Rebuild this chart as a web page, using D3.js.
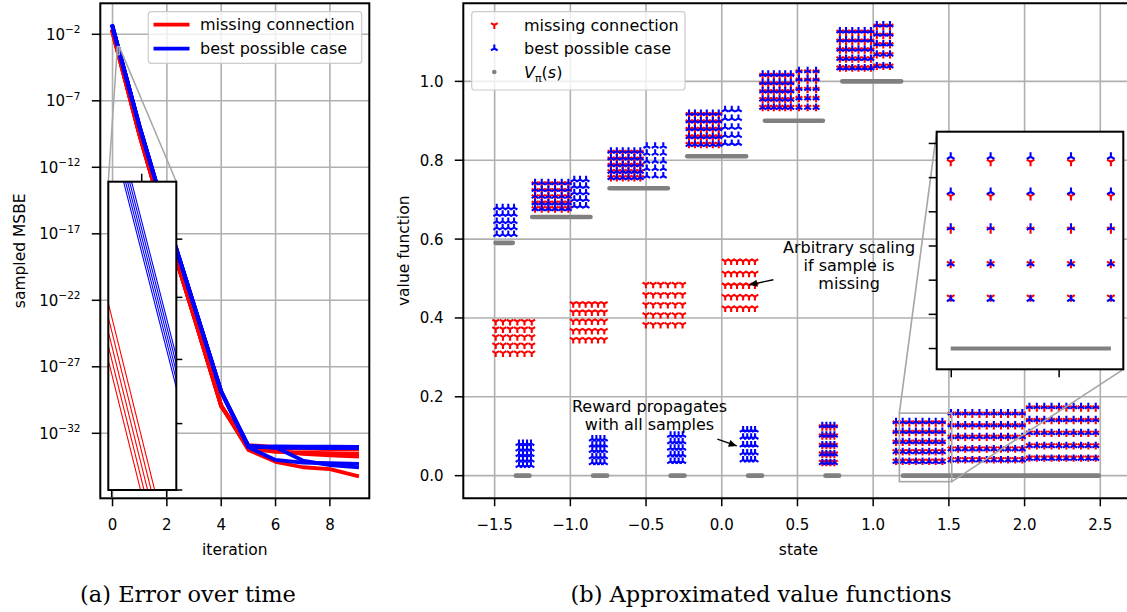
<!DOCTYPE html>
<html><head><meta charset="utf-8">
<script src="https://cdn.jsdelivr.net/npm/d3@7/dist/d3.min.js"></script>
<style>
html,body{margin:0;padding:0;background:#fff;}
svg{display:block;}
text{font-family:"DejaVu Sans",sans-serif;fill:#000;}
text.caption{font-family:"DejaVu Serif",serif;}
</style></head><body>
<svg id="chart" width="1127" height="612" xmlns="http://www.w3.org/2000/svg"></svg>
<script>
// ================= DATA: panel (a) Error over time =================
const iterations = [0,1,2,3,4,5,6,7,8,9];
// sampled MSBE, five runs per setting
const missingRun1 = [1.7488e-2, 2.773e-10, 2.51e-17, 6.31e-24, 1.26e-30, 5.6e-34, 7.1e-35, 2.8e-35, 2.0e-35, 6.3e-36];
const missingRun2 = [1.6400e-2, 2.601e-10, 2.40e-17, 6.00e-24, 1.20e-30, 7.9e-34, 5.0e-34, 2.8e-34, 2.2e-34, 1.8e-34];
const missingRun3 = [1.5390e-2, 2.441e-10, 2.30e-17, 5.80e-24, 1.15e-30, 7.0e-34, 4.0e-34, 3.5e-34, 3.2e-34, 3.0e-34];
const missingRun4 = [1.4433e-2, 2.289e-10, 2.20e-17, 5.60e-24, 1.10e-30, 1.1e-33, 8.0e-34, 7.0e-34, 6.5e-34, 6.3e-34];
const missingRun5 = [1.3543e-2, 2.148e-10, 2.10e-17, 5.40e-24, 1.05e-30, 1.3e-33, 9.0e-34, 8.5e-34, 8.0e-34, 8.0e-34];
const bestRun1 = [3.5480e-2, 1.0000e-9, 1.26e-16, 3.98e-23, 1.26e-29, 1.00e-33, 8.9e-34, 8.9e-34, 8.9e-34, 8.9e-34];
const bestRun2 = [3.6741e-2, 1.0356e-9, 1.30e-16, 4.10e-23, 1.30e-29, 1.12e-33, 7.9e-34, 7.9e-34, 7.6e-34, 7.6e-34];
const bestRun3 = [3.8048e-2, 1.0725e-9, 1.35e-16, 4.20e-23, 1.35e-29, 9.3e-34, 1.05e-33, 1.0e-33, 1.0e-33, 9.5e-34];
const bestRun4 = [3.9405e-2, 1.1107e-9, 1.40e-16, 4.40e-23, 1.40e-29, 8.9e-34, 1.0e-34, 6.3e-35, 5.6e-35, 5.0e-35];
const bestRun5 = [4.0806e-2, 1.1503e-9, 1.45e-16, 4.50e-23, 1.45e-29, 1.12e-33, 8.9e-34, 8.9e-35, 4.0e-35, 2.8e-35];
const missingRuns = [missingRun1, missingRun2, missingRun3, missingRun4, missingRun5];
const bestRuns = [bestRun1, bestRun2, bestRun3, bestRun4, bestRun5];
const iterationTicks = [0,2,4,6,8];
const msbeTicks = [1e-2, 1e-7, 1e-12, 1e-17, 1e-22, 1e-27, 1e-32];
const msbeTickExp = ["\u22122","\u22127","\u221212","\u221217","\u221222","\u221227","\u221232"];
// zoomed inset of panel (a)
const zoomIterRange = [0.18, 0.2484];
const zoomMsbeRange = [1.189e-3, 2.985e-4];
const zoomIterTicksBottom = [0.1834, 0.2387];
const zoomIterTicksTop = [0.2136];
const zoomMsbeTicks = [9.19e-4, 7.08e-4, 5.36e-4, 4.02e-4, 2.985e-4];

// ================= DATA: panel (b) Approximated value functions =================
const stateTicks = [-1.5,-1.0,-0.5,0.0,0.5,1.0,1.5,2.0,2.5];
const stateTickLabels = ["\u22121.5","\u22121.0","\u22120.5","0.0","0.5","1.0","1.5","2.0","2.5"];
const valueTicks = [0.0,0.2,0.4,0.6,0.8,1.0];
const valueTickLabels = ["0.0","0.2","0.4","0.6","0.8","1.0"];
// V_pi(s): constant pieces (state from, state to, value)
const vpiFrom  = [-1.494, -1.252, -0.741, -0.228, 0.285, 0.796, -1.360, -0.850, -0.338, 0.174, 0.685, 1.197];
const vpiTo    = [-1.380, -0.867, -0.356,  0.161, 0.668, 1.185, -1.270, -0.757, -0.246, 0.266, 0.775, 2.490];
const vpiValue = [0.59049, 0.6561, 0.729, 0.81, 0.9, 1.0, 0, 0, 0, 0, 0, 0];
// sample grids: states (columns) x values (rows)
const bestGroups = [
  {states:[-1.486,-1.447,-1.410,-1.372], values:[0.680,0.663,0.645,0.629,0.612]},
  {states:[-1.233,-1.189,-1.145,-1.101,-1.057,-1.013], values:[0.743,0.726,0.709,0.692,0.677]},
  {states:[-0.974,-0.936,-0.896], values:[0.751,0.734,0.718,0.701,0.684]},
  {states:[-0.732,-0.693,-0.654,-0.616,-0.577,-0.538], values:[0.823,0.806,0.789,0.772,0.756]},
  {states:[-0.495,-0.440,-0.386], values:[0.836,0.818,0.798,0.779,0.760]},
  {states:[-0.216,-0.177,-0.138,-0.099,-0.059,-0.020], values:[0.919,0.900,0.880,0.860,0.840]},
  {states:[0.022,0.066,0.110], values:[0.928,0.906,0.884,0.863,0.843]},
  {states:[0.270,0.307,0.344,0.382,0.419,0.456], values:[1.018,0.997,0.976,0.955,0.934]},
  {states:[0.510,0.567,0.623], values:[1.027,1.006,0.982,0.958,0.934]},
  {states:[0.780,0.821,0.862,0.903,0.944,0.985], values:[1.128,1.105,1.082,1.058,1.034]},
  {states:[1.024,1.067,1.111], values:[1.143,1.120,1.095,1.069,1.039]},
  {states:[-1.339,-1.313,-1.286,-1.260], values:[0.082,0.068,0.054,0.040,0.026]},
  {states:[-0.855,-0.828,-0.802,-0.775], values:[0.093,0.078,0.064,0.048,0.033]},
  {states:[-0.338,-0.311,-0.285,-0.258], values:[0.103,0.086,0.070,0.053,0.036]},
  {states:[0.141,0.168,0.194,0.220], values:[0.116,0.098,0.078,0.058,0.040]},
  {states:[0.664,0.691,0.717,0.744], values:[0.127,0.103,0.078,0.055,0.033]},
  {states:[1.151,1.195,1.239,1.282,1.326,1.370,1.413,1.457], values:[0.137,0.112,0.086,0.061,0.036]},
  {states:[1.514,1.561,1.608,1.655,1.702,1.750,1.797,1.844,1.891,1.938,1.985], values:[0.159,0.129,0.099,0.068,0.040]},
  {states:[2.032,2.081,2.130,2.178,2.227,2.276,2.324,2.373,2.421,2.470], values:[0.175,0.142,0.109,0.076,0.044]}
];
const missingGroups = [
  {states:[-1.493,-1.445,-1.398,-1.350,-1.303,-1.255], values:[0.391,0.372,0.352,0.331,0.311]},
  {states:[-0.981,-0.940,-0.899,-0.858,-0.817,-0.776], values:[0.436,0.415,0.392,0.368,0.345]},
  {states:[-0.501,-0.453,-0.404,-0.356,-0.307,-0.259], values:[0.485,0.459,0.434,0.408,0.383]},
  {states:[0.023,0.062,0.101,0.141,0.180,0.219], values:[0.544,0.513,0.483,0.454,0.425]},
  {states:[-1.233,-1.189,-1.145,-1.101,-1.057,-1.013], values:[0.740,0.723,0.707,0.691,0.677]},
  {states:[-0.732,-0.693,-0.654,-0.616,-0.577,-0.538], values:[0.820,0.803,0.787,0.771,0.756]},
  {states:[-0.216,-0.177,-0.138,-0.099,-0.059,-0.020], values:[0.916,0.897,0.878,0.859,0.840]},
  {states:[0.270,0.307,0.344,0.382,0.419,0.456], values:[1.015,0.994,0.974,0.954,0.934]},
  {states:[0.510,0.567,0.623], values:[1.024,1.003,0.980,0.957,0.934]},
  {states:[0.780,0.821,0.862,0.903,0.944,0.985], values:[1.125,1.102,1.080,1.057,1.034]},
  {states:[1.024,1.067,1.111], values:[1.140,1.117,1.093,1.068,1.039]},
  {states:[0.664,0.691,0.717,0.744], values:[0.124,0.101,0.077,0.055,0.034]},
  {states:[1.151,1.195,1.239,1.282,1.326,1.370,1.413,1.457], values:[0.134,0.110,0.085,0.061,0.037]},
  {states:[1.514,1.561,1.608,1.655,1.702,1.750,1.797,1.844,1.891,1.938,1.985], values:[0.156,0.127,0.098,0.068,0.041]},
  {states:[2.032,2.081,2.130,2.178,2.227,2.276,2.324,2.373,2.421,2.470], values:[0.172,0.140,0.108,0.076,0.045]}
];
// zoomed inset of panel (b)
const zoomStateRange = [1.173, 1.519];
const zoomValueRange = [-0.0152, 0.1586];
const zoomStates = [1.199, 1.273, 1.347, 1.422, 1.496];
const zoomBestValues = [0.1403, 0.1145, 0.0884, 0.0620, 0.0362];
const zoomMissingValues = [0.1366, 0.1115, 0.0872, 0.0620, 0.0374];
const zoomVpiFrom = [1.199], zoomVpiTo = [1.496], zoomVpiValue = [0];
const zoomStateTicks = [1.2, 1.4];
const zoomValueTicks = [0, 0.025, 0.05, 0.075, 0.1, 0.125, 0.15];

// ================= DRAWING =================
const RED = "#ff0000", BLUE = "#0000ff", GRAY = "#808080", GRID = "#b0b0b0";
const svg = d3.select("#chart");
const defs = svg.append("defs");
function clip(id, x, y, w, h){ defs.append("clipPath").attr("id", id).append("rect").attr("x",x).attr("y",y).attr("width",w).attr("height",h); return `url(#${id})`; }
function tri(x, y, r, up){
  const s = up ? -1 : 1;
  return `M${x},${y}L${x},${y+s*r}M${x},${y}L${x-0.866*r},${y-s*0.5*r}M${x},${y}L${x+0.866*r},${y-s*0.5*r}`;
}
function grid(points){ return points.flatMap(g => g.values.flatMap(v => g.states.map(s => ({s, v})))); }

// ---------- Panel (a) ----------
const A = {l:100.3, r:369.3, t:3.3, b:498.3};
const xA = d3.scaleLinear().domain([-0.45, 9.45]).range([A.l, A.r]);
const yA = d3.scaleLog().domain([2.143, 1.297e-37]).range([A.t, A.b]);
const gA = svg.append("g");
gA.append("g").selectAll("line").data(iterationTicks).join("line")
  .attr("x1", d=>xA(d)).attr("x2", d=>xA(d)).attr("y1", A.t).attr("y2", A.b)
  .attr("stroke", GRID).attr("stroke-width", 1.6);
gA.append("g").selectAll("line").data(msbeTicks).join("line")
  .attr("x1", A.l).attr("x2", A.r).attr("y1", d=>yA(d)).attr("y2", d=>yA(d))
  .attr("stroke", GRID).attr("stroke-width", 1.6);
const clipA = clip("clipA", A.l, A.t, A.r-A.l, A.b-A.t);
const lineA = d3.line().x((d,i)=>xA(iterations[i])).y(d=>yA(d));
const linesA = gA.append("g").attr("clip-path", clipA);
linesA.selectAll("path.m").data(missingRuns).join("path").attr("class","m")
  .attr("d", lineA).attr("fill","none").attr("stroke", RED).attr("stroke-width", 3.8)
  .attr("stroke-linejoin","round").attr("stroke-linecap","square");
linesA.selectAll("path.b").data(bestRuns).join("path").attr("class","b")
  .attr("d", lineA).attr("fill","none").attr("stroke", BLUE).attr("stroke-width", 3.8)
  .attr("stroke-linejoin","round").attr("stroke-linecap","square");

// zoom indicator in (a)
const IA = {l:108.3, r:176.3, t:181.7, b:490};
const zx0 = xA(zoomIterRange[0]), zx1 = xA(zoomIterRange[1]);
const zy0 = yA(zoomMsbeRange[0]), zy1 = yA(zoomMsbeRange[1]);
gA.append("rect").attr("x", zx0).attr("y", zy0).attr("width", zx1-zx0).attr("height", zy1-zy0)
  .attr("fill","none").attr("stroke","#a6a6a6").attr("stroke-width",1.5);
gA.append("line").attr("x1", zx0).attr("y1", zy0).attr("x2", IA.l).attr("y2", IA.t).attr("stroke","#a6a6a6").attr("stroke-width",1.5);
gA.append("line").attr("x1", zx1).attr("y1", zy0).attr("x2", IA.r).attr("y2", IA.t).attr("stroke","#a6a6a6").attr("stroke-width",1.5);

// axes (a)
gA.append("rect").attr("x",A.l).attr("y",A.t).attr("width",A.r-A.l).attr("height",A.b-A.t)
  .attr("fill","none").attr("stroke","#000").attr("stroke-width",2);
gA.append("g").selectAll("line").data(iterationTicks).join("line")
  .attr("x1", d=>xA(d)).attr("x2", d=>xA(d)).attr("y1", A.b).attr("y2", A.b+8)
  .attr("stroke","#000").attr("stroke-width",1.5);
gA.append("g").selectAll("text").data(iterationTicks).join("text")
  .attr("x", d=>xA(d)).attr("y", 529.5).attr("text-anchor","middle").attr("font-size",15).text(d=>d);
gA.append("g").selectAll("line").data(msbeTicks).join("line")
  .attr("x1", A.l-8.5).attr("x2", A.l).attr("y1", d=>yA(d)).attr("y2", d=>yA(d))
  .attr("stroke","#000").attr("stroke-width",1.5);
const ylab = gA.append("g").selectAll("text").data(msbeTicks).join("text")
  .attr("x", 80.5).attr("y", d=>yA(d)+5.5).attr("text-anchor","end").attr("font-size",15);
ylab.append("tspan").text("10");
ylab.append("tspan").attr("font-size",10.5).attr("dy",-6.5).text((d,i)=>msbeTickExp[i]);
gA.append("text").attr("x", (A.l+A.r)/2).attr("y", 555).attr("text-anchor","middle").attr("font-size",15.5).text("iteration");
gA.append("text").attr("transform", `translate(24.5,${(A.t+A.b)/2}) rotate(-90)`).attr("text-anchor","middle").attr("font-size",15.5).text("sampled MSBE");

// legend (a)
const legA = gA.append("g");
legA.append("rect").attr("x",148.3).attr("y",11.7).attr("width",213.4).attr("height",51.6).attr("rx",3)
  .attr("fill","#fff").attr("fill-opacity",0.8).attr("stroke","#cccccc").attr("stroke-width",1.2);
[["missing connection", RED],["best possible case", BLUE]].forEach(([t,c],i)=>{
  const y = 24.7 + i*24;
  legA.append("line").attr("x1",153.5).attr("x2",189.5).attr("y1",y).attr("y2",y).attr("stroke",c).attr("stroke-width",3.8);
  legA.append("text").attr("x",200).attr("y",y+5.6).attr("font-size",16).text(t);
});

// inset (a)
const xIA = d3.scaleLinear().domain(zoomIterRange).range([IA.l, IA.r]);
const yIA = d3.scaleLog().domain(zoomMsbeRange).range([IA.t, IA.b]);
const gIA = svg.append("g");
gIA.append("rect").attr("x",IA.l).attr("y",IA.t).attr("width",IA.r-IA.l).attr("height",IA.b-IA.t).attr("fill","#fff");
const clipIA = clip("clipIA", IA.l, IA.t, IA.r-IA.l, IA.b-IA.t);
const lineIA = d3.line().x((d,i)=>xIA(iterations[i])).y(d=>yIA(d));
const inA = gIA.append("g").attr("clip-path", clipIA);
inA.selectAll("path.m").data(missingRuns).join("path").attr("class","m").attr("d", lineIA)
  .attr("fill","none").attr("stroke",RED).attr("stroke-width",1.1);
inA.selectAll("path.b").data(bestRuns).join("path").attr("class","b").attr("d", lineIA)
  .attr("fill","none").attr("stroke",BLUE).attr("stroke-width",1.1);
gIA.append("rect").attr("x",IA.l).attr("y",IA.t).attr("width",IA.r-IA.l).attr("height",IA.b-IA.t)
  .attr("fill","none").attr("stroke","#000").attr("stroke-width",2);
gIA.append("g").selectAll("line").data(zoomIterTicksBottom).join("line")
  .attr("x1",d=>xIA(d)).attr("x2",d=>xIA(d)).attr("y1",IA.b).attr("y2",IA.b+7).attr("stroke","#000").attr("stroke-width",1.5);
gIA.append("g").selectAll("line").data(zoomIterTicksTop).join("line")
  .attr("x1",d=>xIA(d)).attr("x2",d=>xIA(d)).attr("y1",IA.t).attr("y2",IA.t-8).attr("stroke","#000").attr("stroke-width",1.5);
gIA.append("g").selectAll("line").data(zoomMsbeTicks).join("line")
  .attr("x1",IA.r).attr("x2",IA.r+6).attr("y1",d=>yIA(d)).attr("y2",d=>yIA(d)).attr("stroke","#000").attr("stroke-width",1.5);

// ---------- Panel (b) ----------
const B = {l:463.3, r:1133.6, t:3.3, b:498.3};
const xB = d3.scaleLinear().domain([-1.707, 2.72]).range([B.l, B.r]);
const yB = d3.scaleLinear().domain([-0.0574, 1.198]).range([B.b, B.t]);
const gB = svg.append("g");
gB.append("g").selectAll("line").data(stateTicks).join("line")
  .attr("x1", d=>xB(d)).attr("x2", d=>xB(d)).attr("y1", B.t).attr("y2", B.b)
  .attr("stroke", GRID).attr("stroke-width", 1.6);
gB.append("g").selectAll("line").data(valueTicks).join("line")
  .attr("x1", B.l).attr("x2", B.r).attr("y1", d=>yB(d)).attr("y2", d=>yB(d))
  .attr("stroke", GRID).attr("stroke-width", 1.6);
const clipB = clip("clipB", B.l, B.t, B.r-B.l, B.b-B.t);
const plotB = gB.append("g").attr("clip-path", clipB);
const MR = 3.9, MW = 2.1;
plotB.append("g").selectAll("path").data(grid(missingGroups)).join("path")
  .attr("d", d=>tri(xB(d.s), yB(d.v), MR, false)).attr("fill","none").attr("stroke",RED).attr("stroke-width",MW);
plotB.append("g").selectAll("path").data(grid(bestGroups)).join("path")
  .attr("d", d=>tri(xB(d.s), yB(d.v), MR, true)).attr("fill","none").attr("stroke",BLUE).attr("stroke-width",MW);
plotB.append("g").selectAll("line").data(vpiValue).join("line")
  .attr("x1",(d,i)=>xB(vpiFrom[i])).attr("x2",(d,i)=>xB(vpiTo[i])).attr("y1",d=>yB(d)).attr("y2",d=>yB(d))
  .attr("stroke",GRAY).attr("stroke-width",4.6).attr("stroke-linecap","round");

// annotations
function arrow(g, x1, y1, x2, y2){
  g.append("line").attr("x1",x1).attr("y1",y1).attr("x2",x2).attr("y2",y2).attr("stroke","#000").attr("stroke-width",1.4);
  const a = Math.atan2(y2-y1, x2-x1), L = 8, Wd = 3.6;
  const bx = x2 - L*Math.cos(a), by = y2 - L*Math.sin(a);
  g.append("path").attr("d", `M${x2},${y2}L${bx - Wd*Math.sin(a)},${by + Wd*Math.cos(a)}L${bx + Wd*Math.sin(a)},${by - Wd*Math.cos(a)}Z`).attr("fill","#000");
}
const ann = gB.append("g");
const t1x = xB(0.841), t1y = yB(0.5337);
["Arbitrary scaling","if sample is","missing"].forEach((t,i)=>{
  ann.append("text").attr("x",t1x).attr("y",t1y + (i-1)*17.7 + 5.8).attr("text-anchor","middle").attr("font-size",16).text(t);
});
arrow(ann, xB(0.341), yB(0.497), xB(0.182), yB(0.484));
const t2x = xB(-0.477), t2y = yB(0.1545);
["Reward propagates","with all samples"].forEach((t,i)=>{
  ann.append("text").attr("x",t2x).attr("y",t2y + (i-0.5)*18 + 5.8).attr("text-anchor","middle").attr("font-size",16).text(t);
});
arrow(ann, xB(-0.029), yB(0.0925), xB(0.099), yB(0.0755));

// axes (b)
gB.append("path").attr("d",`M${B.r},${B.t}H${B.l}V${B.b}H${B.r}`).attr("fill","none").attr("stroke","#000").attr("stroke-width",2);
gB.append("g").selectAll("line").data(stateTicks).join("line")
  .attr("x1", d=>xB(d)).attr("x2", d=>xB(d)).attr("y1", B.b).attr("y2", B.b+8)
  .attr("stroke","#000").attr("stroke-width",1.5);
gB.append("g").selectAll("text").data(stateTicks).join("text")
  .attr("x", d=>xB(d)).attr("y", 529.5).attr("text-anchor","middle").attr("font-size",15).text((d,i)=>stateTickLabels[i]);
gB.append("g").selectAll("line").data(valueTicks).join("line")
  .attr("x1", B.l-8.5).attr("x2", B.l).attr("y1", d=>yB(d)).attr("y2", d=>yB(d))
  .attr("stroke","#000").attr("stroke-width",1.5);
gB.append("g").selectAll("text").data(valueTicks).join("text")
  .attr("x", 443.5).attr("y", d=>yB(d)+5.5).attr("text-anchor","end").attr("font-size",15).text((d,i)=>valueTickLabels[i]);
gB.append("text").attr("x", 798.5).attr("y", 555).attr("text-anchor","middle").attr("font-size",15.5).text("state");
gB.append("text").attr("transform", `translate(409,${(B.t+B.b)/2}) rotate(-90)`).attr("text-anchor","middle").attr("font-size",15.5).text("value function");

// legend (b)
const legB = gB.append("g");
legB.append("rect").attr("x",471.7).attr("y",11.7).attr("width",213.3).attr("height",78.3).attr("rx",3)
  .attr("fill","#fff").attr("fill-opacity",0.8).attr("stroke","#cccccc").attr("stroke-width",1.2);
legB.append("path").attr("d", tri(494.3, 25, MR, false)).attr("fill","none").attr("stroke",RED).attr("stroke-width",MW);
legB.append("path").attr("d", tri(494.3, 48.5, MR, true)).attr("fill","none").attr("stroke",BLUE).attr("stroke-width",MW);
legB.append("circle").attr("cx",494.3).attr("cy",72).attr("r",2.3).attr("fill",GRAY);
legB.append("text").attr("x",524).attr("y",30.6).attr("font-size",16).text("missing connection");
legB.append("text").attr("x",524).attr("y",54.1).attr("font-size",16).text("best possible case");
const vt = legB.append("text").attr("x",524).attr("y",77.6).attr("font-size",16);
vt.append("tspan").attr("font-style","italic").text("V");
vt.append("tspan").attr("font-size",11).attr("dy",4).text("\u03c0");
vt.append("tspan").attr("dy",-4).text("(");
vt.append("tspan").attr("font-style","italic").text("s");
vt.append("tspan").text(")");

// zoom indicator in (b)
const IB = {l:936.7, r:1123.3, t:131.7, b:369.3};
const rx0 = xB(zoomStateRange[0]), rx1 = xB(zoomStateRange[1]);
const ry0 = yB(zoomValueRange[1]), ry1 = yB(zoomValueRange[0]);
gB.append("rect").attr("x",rx0).attr("y",ry0).attr("width",rx1-rx0).attr("height",ry1-ry0)
  .attr("fill","none").attr("stroke","#a6a6a6").attr("stroke-width",1.6);
gB.append("line").attr("x1",rx0).attr("y1",ry0).attr("x2",IB.l).attr("y2",IB.t).attr("stroke","#a6a6a6").attr("stroke-width",1.6);
gB.append("line").attr("x1",rx1).attr("y1",ry1).attr("x2",IB.r).attr("y2",IB.b).attr("stroke","#a6a6a6").attr("stroke-width",1.6);

// inset (b)
const xIB = d3.scaleLinear().domain(zoomStateRange).range([IB.l, IB.r]);
const yIB = d3.scaleLinear().domain(zoomValueRange).range([IB.b, IB.t]);
const gIB = svg.append("g");
gIB.append("rect").attr("x",IB.l).attr("y",IB.t).attr("width",IB.r-IB.l).attr("height",IB.b-IB.t).attr("fill","#fff");
const inB = gIB.append("g").attr("clip-path", clip("clipIB", IB.l, IB.t, IB.r-IB.l, IB.b-IB.t));
const zoomMissingPts = zoomMissingValues.flatMap(v => zoomStates.map(s => ({s, v})));
const zoomBestPts = zoomBestValues.flatMap(v => zoomStates.map(s => ({s, v})));
inB.append("g").selectAll("path").data(zoomMissingPts).join("path")
  .attr("d", d=>tri(xIB(d.s), yIB(d.v), 4.4, false)).attr("fill","none").attr("stroke",RED).attr("stroke-width",2.1);
inB.append("g").selectAll("path").data(zoomBestPts).join("path")
  .attr("d", d=>tri(xIB(d.s), yIB(d.v), 4.4, true)).attr("fill","none").attr("stroke",BLUE).attr("stroke-width",2.1);
inB.append("g").selectAll("line").data(zoomVpiValue).join("line")
  .attr("x1",(d,i)=>xIB(zoomVpiFrom[i])).attr("x2",(d,i)=>xIB(zoomVpiTo[i])).attr("y1",d=>yIB(d)).attr("y2",d=>yIB(d))
  .attr("stroke",GRAY).attr("stroke-width",4.2).attr("stroke-linecap","butt");
gIB.append("rect").attr("x",IB.l).attr("y",IB.t).attr("width",IB.r-IB.l).attr("height",IB.b-IB.t)
  .attr("fill","none").attr("stroke","#000").attr("stroke-width",2);
gIB.append("g").selectAll("line").data(zoomValueTicks).join("line")
  .attr("x1",IB.l-8).attr("x2",IB.l).attr("y1",d=>yIB(d)).attr("y2",d=>yIB(d)).attr("stroke","#000").attr("stroke-width",1.5);
gIB.append("g").selectAll("line").data(zoomStateTicks).join("line")
  .attr("x1",d=>xIB(d)).attr("x2",d=>xIB(d)).attr("y1",IB.b).attr("y2",IB.b+8).attr("stroke","#000").attr("stroke-width",1.5);

// captions
svg.append("text").attr("class","caption").attr("x",188).attr("y",601.5).attr("text-anchor","middle")
  .attr("font-size",22.5).attr("fill","#111").text("(a) Error over time");
svg.append("text").attr("class","caption").attr("x",761).attr("y",601.5).attr("text-anchor","middle")
  .attr("font-size",22.5).attr("fill","#111").text("(b) Approximated value functions");
</script>
</body></html>
